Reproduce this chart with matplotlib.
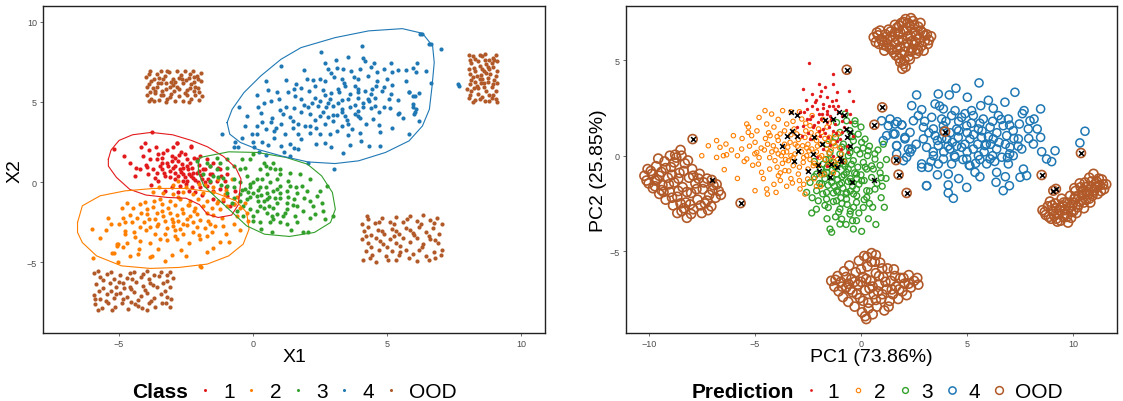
import numpy as np
import matplotlib
matplotlib.use("Agg")
import matplotlib.pyplot as plt
from matplotlib.lines import Line2D

plt.rcParams['font.family'] = ['Liberation Sans', 'DejaVu Sans']

# colours (Paired palette)
col_1, col_2, col_3, col_4, col_ood = '#E31A1C', '#FF7F00', '#33A02C', '#1F78B4', '#B15928'
legend_labels = ['1', '2', '3', '4', 'OOD']

# ---------------- left panel: raw features X1 / X2 ----------------
class1 = [(-5.19,2.05),(-4.03,2.47),(-3.76,3.13),(-3.62,2.16),(-2.85,2.47),(-2.31,2.22),(-4.37,0.91),(-4.09,1.64),
    (-3.53,1.78),(-3.22,1.99),(-3.04,1.64),(-2.79,1.33),(-2.54,1.74),(-2.47,1.43),(-2.10,1.43),(-3.84,1.43),(-3.60,1.43),
    (-3.47,1.02),(-3.97,0.97),(-3.22,1.22),(-2.91,1.02),(-3.10,0.70),(-2.72,0.81),(-2.60,0.50),(-2.29,0.91),(-2.10,0.60),
    (-1.79,0.81),(-3.28,0.39),(-3.66,0.29),(-2.91,0.19),(-2.47,0.08),(-2.23,0.29),(-1.92,0.19),(-1.60,0.50),(-1.36,0.08),
    (-2.72,-0.23),(-3.04,-0.33),(-2.29,-0.33),(-1.73,-0.23),(-1.23,-0.44),(-0.98,-0.85),(-0.67,-0.54),(-3.28,-0.54),
    (-0.86,-1.47),(-0.73,-1.37),(-1.73,1.43),(-1.48,1.22),(-1.23,0.81),(-0.98,0.50),(-1.98,1.64),(-3.41,0.81),(-3.72,0.81),
    (-3.04,1.33),(-2.66,1.12),(-2.41,0.81),(-2.23,0.60),(-2.79,0.39),(-2.04,-0.02),(-1.60,-0.02),(-3.60,0.60),(-3.91,0.50),
    (-4.22,0.81),(-2.91,1.53),(-2.35,1.22),(-3.41,1.53),(-3.16,1.02),(-2.60,0.08),(-1.98,-0.33),(-1.48,-0.54),(-2.38,-0.54),
    (-1.11,-1.16),(-1.48,-1.06),(-2.84,2.41),(-2.33,2.26),(-2.55,0.30),(-2.40,0.52),(-2.18,0.12),(-1.95,0.42),(-1.88,0.85),
    (-2.68,0.62),(-3.00,0.88),(-3.32,0.55),(-2.48,1.00),(-1.70,0.22),(-1.52,0.48),(-2.75,1.72),(-3.35,1.80),(-4.60,1.20),
    (-3.90,2.00),(-1.30,0.90),(-2.00,1.10),(-2.15,-0.62),(-1.05,0.10),(-3.55,0.05),(-4.40,0.40),
    (-2.90,0.60),(-2.60,0.90),(-2.30,0.40),(-2.00,0.70),(-3.10,0.30),(-2.50,-0.10),(-1.80,0.00),(-3.40,1.20),(-2.20,1.50),
    (-2.70,1.90),(-4.80,1.60),(-4.20,2.20),(-3.00,2.20),(-1.60,1.00),(-1.20,0.40),(-3.80,-0.20),(-4.00,1.10),(-2.80,-0.60),
    (-1.90,-0.80),(-1.00,-0.30)]

class2 = [(-5.98,-4.73),(-5.03,-4.96),(-5.19,-4.38),(-4.86,-4.03),(-5.06,-4.00),(-4.69,-3.76),(-4.78,-3.20),(-4.44,-3.09),
    (-4.24,-4.13),(-4.28,-4.48),(-3.84,-4.69),(-4.22,-3.65),(-3.84,-3.76),(-3.53,-4.13),(-3.03,-4.52),(-1.95,-5.31),
    (-1.48,-4.07),(-1.23,-3.71),(-1.98,-3.55),(-1.73,-3.34),(-2.85,-3.55),(-3.47,-3.55),(-3.66,-3.24),(-3.28,-3.24),
    (-2.91,-3.38),(-2.60,-3.24),(-2.23,-3.13),(-1.54,-3.13),(-4.22,-2.76),(-3.84,-2.82),(-3.53,-2.61),(-3.22,-2.88),
    (-2.97,-2.72),(-2.72,-2.93),(-2.47,-2.68),(-2.10,-2.82),(-1.79,-2.88),(-1.42,-2.72),(-4.78,-2.51),(-4.53,-2.51),
    (-4.07,-2.51),(-3.66,-2.30),(-3.28,-2.41),(-3.04,-2.30),(-2.79,-2.41),(-2.47,-2.30),(-2.23,-2.51),(-1.98,-2.35),
    (-1.67,-2.41),(-1.11,-2.72),(-4.59,-2.05),(-4.34,-2.20),(-3.97,-1.99),(-3.60,-1.89),(-3.35,-2.10),(-3.10,-1.93),
    (-2.85,-2.05),(-2.60,-1.89),(-2.35,-2.10),(-2.10,-1.99),(-1.73,-1.89),(-1.48,-2.05),(-1.17,-2.20),(-4.84,-2.20),
    (-4.47,-1.58),(-4.22,-1.37),(-3.97,-1.68),(-3.72,-1.52),(-3.41,-1.37),(-3.16,-1.58),(-2.91,-1.43),(-2.66,-1.64),
    (-2.41,-1.43),(-2.16,-1.58),(-1.85,-1.47),(-1.54,-1.58),(-1.23,-1.68),(-0.98,-1.47),(-4.71,-1.27),(-4.03,-1.22),
    (-3.47,-1.06),(-3.10,-1.16),(-2.72,-1.06),(-2.35,-1.16),(-2.04,-1.02),(-1.73,-1.16),(-1.36,-1.27),(-1.11,-1.06),
    (-0.73,-1.37),(-0.49,-1.58),(-0.61,-2.10),(-0.24,-1.89),(-3.72,-0.64),(-3.35,-0.69),(-2.97,-0.75),(-2.60,-0.60),
    (-2.23,-0.75),(-1.85,-0.69),(-1.48,-0.60),(-1.04,-0.75),(-5.09,-3.86),(-5.27,-4.38),(-5.04,-3.86),(-4.77,-3.03),
    (-1.97,-5.21),(-3.77,-4.59),(-1.71,-4.34),(-1.50,-0.30),(-1.00,-0.50),(-0.60,-0.90),(-0.30,-1.30),(-0.20,-2.40),
    (-2.50,-0.30),(-3.00,-0.20),(-2.00,-0.10),(-0.80,0.20),(-3.50,-0.30),(-2.80,0.10),(-1.80,-0.20),(-1.30,0.20),
    (-5.50,-3.00),(-5.30,-2.60),(-4.00,-3.00),(-2.40,-3.80),(-2.70,-4.20),(-1.00,-3.20),(-0.70,-2.60),(-4.90,-1.60),
    (-5.40,-2.20),(-3.00,-2.50),(-2.60,-2.60),(-3.40,-1.80),(-2.20,-1.80),(-3.90,-2.30),(-2.90,-3.00),(-2.00,-3.30),
    (-3.20,-3.60),(-4.40,-3.40),(-1.60,-2.60),(-2.40,-1.40),(-3.70,-1.20),(-4.20,-1.90),(-5.00,-2.60),(-5.70,-3.50),
    (-6.00,-2.90),(-4.60,-4.60),(-3.30,-4.90),(-2.50,-4.60),(-0.90,-3.70),(-0.50,-3.00),(-1.30,-1.20),(-2.80,-0.90),
    (-3.60,-2.70)]

class3 = [(-2.10,1.33),(-1.36,1.53),(-0.42,1.43),(0.01,1.74),(0.63,0.91),(0.82,0.81),(1.32,0.08),(1.82,-0.23),(2.38,-0.85),
    (3.00,-2.10),(2.13,-2.20),(1.88,-3.13),(0.70,-3.13),(2.06,-3.13),(1.26,-2.62),(1.57,-2.10),(1.00,-2.51),(0.76,-2.30),
    (0.26,-2.51),(0.01,-2.10),(0.51,-1.89),(-0.11,-1.68),(-0.36,-1.47),(0.26,-1.47),(0.76,-1.58),(1.26,-1.68),(1.63,-1.47),
    (1.88,-1.78),(2.25,-1.47),(2.56,-1.27),(1.51,-1.06),(1.01,-0.96),(0.51,-1.06),(0.14,-0.85),(-0.24,-1.06),(-0.49,-0.75),
    (-0.73,-0.96),(-0.98,-0.65),(0.76,-0.54),(1.26,-0.54),(1.63,-0.65),(2.00,-0.54),(0.26,-0.33),(-0.11,-0.13),(-0.49,-0.02),
    (-0.73,0.19),(-0.24,0.39),(0.14,0.19),(0.63,-0.02),(1.01,-0.23),(1.38,-0.23),(1.01,0.50),(0.51,0.50),(0.26,0.81),
    (-0.49,0.81),(-0.98,0.91),(-1.36,0.81),(-1.60,1.02),(-1.85,0.50),(-1.48,0.39),(-1.11,0.29),(-0.98,-0.23),(0.01,-0.65),
    (0.88,-1.27),(1.26,-1.27),(0.51,-0.65),(-0.30,-0.44),(-0.73,-0.33),(0.14,-1.78),(0.88,-2.00),(1.63,-2.51),(1.13,-2.10),
    (0.63,-2.51),(-0.36,-2.10),(-0.61,-1.78),(2.50,-0.54),(2.75,-0.23),(2.13,-1.16),(-0.11,1.43),(-0.73,1.02),(-0.98,1.43),
    (-1.23,1.22),(-1.73,1.22),(0.39,1.22),(0.76,1.22),(1.01,0.81),(1.38,0.60),(1.76,0.50),(2.13,0.19),(2.69,-2.30),
    (0.30,-0.80),(0.50,-0.30),(-0.20,-0.60),(0.80,-1.00),(0.00,0.00),(0.40,-1.20),(1.00,-0.70),(-0.50,-1.20),(0.20,-0.50),
    (0.60,-1.50),(-0.10,-0.95),(0.35,0.20),(1.20,-1.90),(-1.20,-0.20),(-1.60,0.10),(0.90,0.20),
    (0.20,-1.20),(0.60,-0.90),(-0.10,-0.30),(0.90,-0.40),(1.30,-0.90),(0.40,-1.60),(-0.40,-0.50),(0.70,-2.10),(1.50,-1.40),
    (1.90,-1.00),(2.30,-2.00),(0.00,-2.40),(-0.80,-1.30),(-1.30,0.30),(-0.30,0.90),(0.50,1.00),(1.60,-0.30),(2.60,-1.80),
    (1.40,-3.00),(0.30,-2.90)]

class4 = [(6.32,9.21),(6.64,8.59),(7.01,8.28),(4.06,8.45),(2.55,8.13),(3.56,7.80),(4.12,7.76),(4.19,7.55),(4.50,7.45),
    (5.13,7.45),(6.13,7.45),(1.04,7.24),(2.68,7.45),(2.80,7.04),(3.12,7.08),(3.37,7.04),(3.64,6.93),(4.00,7.04),(4.63,6.83),
    (4.88,7.04),(5.19,6.87),(5.72,6.97),(5.95,7.14),(6.07,6.83),(6.45,6.93),(0.50,6.27),(1.23,6.35),(2.02,6.45),(2.24,6.35),
    (2.49,6.41),(2.68,6.31),(3.02,6.52),(3.31,6.45),(3.75,6.52),(4.29,6.62),(4.63,6.31),(5.00,6.41),(6.64,6.16),(0.54,5.75),
    (1.54,5.79),(1.80,5.89),(2.30,6.00),(2.61,5.73),(3.18,5.79),(3.43,5.96),(3.81,6.00),(3.93,5.79),(4.18,5.69),(4.44,5.79),
    (4.81,5.69),(5.19,6.04),(5.82,5.62),(6.20,5.58),(5.95,5.38),(0.14,5.42),(0.66,5.06),(0.98,5.17),(1.58,5.38),(1.80,5.17),
    (2.30,5.27),(2.49,5.06),(2.86,5.21),(3.18,4.96),(3.56,5.21),(3.93,5.27),(4.31,5.06),(4.56,5.27),(5.07,5.21),(5.13,5.48),
    (0.41,4.96),(-0.53,4.65),(1.23,4.65),(1.54,4.59),(2.05,4.65),(2.42,4.75),(2.74,4.65),(2.99,4.75),(3.31,4.55),(3.62,4.65),
    (3.93,4.44),(4.12,4.65),(4.56,4.75),(4.88,4.71),(5.44,4.30),(5.95,4.86),(6.07,4.55),(6.01,4.23),(-0.24,4.09),(0.29,4.30),
    (1.10,4.23),(1.36,4.03),(1.80,4.34),(2.11,4.23),(2.49,4.13),(2.80,4.03),(3.12,4.17),(3.43,4.09),(3.81,4.23),(3.93,4.13),
    (4.46,3.92),(0.35,3.72),(0.66,3.72),(1.04,3.61),(1.48,3.82),(1.67,3.61),(2.11,3.51),(2.36,3.40),(2.68,3.61),(3.31,3.51),
    (3.56,3.65),(4.69,3.55),(0.16,3.47),(0.85,3.40),(1.48,3.40),(1.92,3.47),(2.86,2.99),(3.15,3.20),(3.56,2.93),(3.99,3.05),
    (4.75,3.13),(-1.16,2.99),(-0.41,2.78),(-0.03,2.99),(0.16,2.99),(0.79,3.20),(0.79,2.78),(1.67,2.99),(2.11,3.09),
    (-0.66,2.51),(0.35,2.51),(0.54,2.31),(1.04,2.26),(1.39,2.37),(1.54,2.10),(1.69,2.06),(2.36,2.37),(2.70,2.47),(4.03,2.58),
    (4.31,2.26),(4.75,2.26),(-0.72,2.22),(-0.57,2.16),(0.03,2.16),(0.22,1.89),(0.47,1.68),(1.14,1.89),(1.36,1.64),(3.37,1.79),
    (2.05,1.19),(3.03,0.81),(7.64,6.10),(7.68,5.96),(5.83,5.64),(6.03,5.37),(5.96,4.65),(6.03,4.34),(5.40,4.27),(6.56,8.59),
    (6.23,9.21),(3.60,5.50),(2.90,5.55),(4.10,4.95),(3.30,4.35),(2.60,4.40),(4.40,5.50),(3.00,3.80),
    (2.20,4.90),(2.70,5.40),(3.30,5.10),(3.80,4.80),(4.30,5.20),(4.70,4.40),(3.00,4.20),(3.50,3.90),(2.30,3.90),(1.90,4.80),
    (1.30,5.60),(1.00,4.50),(0.70,4.00),(4.90,5.90),(5.40,5.10),(5.60,4.00),(4.20,3.60),(3.70,3.30),(2.50,3.00),(1.80,2.70),
    (1.20,3.00),(0.50,3.30),(3.90,5.60),(4.60,6.00),(3.40,6.20),(2.90,6.80),(2.10,5.70),(1.60,6.10),(4.00,4.00),(5.10,4.60),
    (4.40,4.60),(2.80,4.90),(3.20,5.60),(3.90,6.40),(5.70,6.30),(5.40,7.00),(4.40,7.20),(3.10,7.60),(1.90,7.00),(0.90,5.60),
    (0.20,4.70),(-0.30,3.50),(0.00,2.50),(2.90,2.20),(3.60,2.30),(5.20,3.40),(5.80,3.00),(6.20,3.80)]

ood_a = [(-3.98,6.55),(-3.85,6.90),(-3.70,6.40),(-3.60,6.75),(-3.45,6.95),(-3.30,6.60),(-3.15,6.85),(-3.00,6.45),(-2.85,6.95),
    (-2.70,6.70),(-2.55,6.90),(-2.40,6.50),(-2.25,6.95),(-2.10,6.60),(-1.95,6.30),(-3.90,6.10),(-3.75,5.85),(-3.55,6.15),
    (-3.40,5.70),(-3.25,6.20),(-3.10,5.90),(-2.90,6.25),(-2.75,5.80),(-2.60,6.15),(-2.45,5.75),(-2.30,6.10),(-2.15,5.90),
    (-2.00,5.60),(-3.95,5.45),(-3.80,5.20),(-3.65,5.55),(-3.50,5.10),(-3.35,5.40),(-3.20,5.15),(-3.05,5.50),(-2.90,5.05),
    (-2.75,5.35),(-2.60,5.05),(-2.45,5.45),(-2.30,5.20),(-2.15,5.40),(-2.00,5.10),(-3.60,5.95),(-3.00,6.05),(-2.50,6.35),
    (-3.35,6.40),(-3.70,5.05),(-1.95,6.80),(-2.95,5.70),(-2.20,6.55),(-3.88,6.72),(-3.50,6.50),(-3.20,6.95),(-2.78,6.50),
    (-2.35,6.75),(-2.05,6.42),(-3.82,6.30),(-3.45,6.20),(-3.05,6.25),(-2.65,6.45),(-2.20,6.25),(-3.95,5.90),(-3.65,5.70),
    (-3.25,5.80),(-2.85,5.95),(-2.35,5.85),(-2.05,5.85),(-3.85,5.60),(-3.45,5.45),(-3.10,5.30),(-2.55,5.55),(-2.20,5.65),
    (-3.90,5.05),(-3.25,5.00),(-2.40,5.00),(-1.92,5.35)]
ood_b = [(8.05,7.90),(8.30,7.70),(8.55,7.85),(8.80,7.60),(9.05,7.90),(8.15,7.40),(8.45,7.25),(8.70,7.35),(8.95,7.20),
    (8.05,7.05),(8.30,6.90),(8.60,6.95),(8.85,6.75),(9.10,6.95),(8.20,6.55),(8.45,6.40),(8.75,6.50),(9.00,6.35),(8.10,6.10),
    (8.35,6.00),(8.60,6.15),(8.90,5.95),(9.10,6.20),(8.15,5.65),(8.40,5.50),(8.70,5.70),(8.95,5.45),(8.05,5.25),(8.30,5.10),
    (8.55,5.30),(8.80,5.05),(9.05,5.20),(8.50,6.70),(8.25,7.10),(8.65,7.60),(8.00,5.80),(8.90,7.45),(8.40,5.85),(8.75,6.25),
    (9.05,5.70),(8.20,5.00),(8.55,7.05),(8.45,7.90),(9.10,7.55),(8.10,6.75),(8.20,7.85),(8.65,7.95),(8.95,7.75),(8.40,7.55),
    (8.10,7.60),(8.80,7.05),(8.35,6.60),(8.70,6.80),(9.05,6.60),(8.15,6.35),(8.55,6.45),(8.95,6.10),(8.25,5.85),(8.60,5.90),
    (8.80,5.45),(8.10,5.45),(8.45,5.20),(8.90,5.25),(9.10,5.00),(8.65,5.05),(8.30,6.25),(8.75,7.15),(9.00,7.60),(8.50,6.15)]
ood_c = [(-5.95,-5.65),(-5.70,-5.90),(-5.45,-5.70),(-5.20,-6.00),(-4.95,-5.75),(-4.70,-5.95),(-4.45,-5.60),(-4.20,-5.90),
    (-3.95,-5.55),(-3.70,-5.80),(-3.45,-5.60),(-3.20,-5.75),(-3.00,-5.95),(-5.85,-6.35),(-5.60,-6.60),(-5.35,-6.30),
    (-5.10,-6.55),(-4.85,-6.25),(-4.60,-6.50),(-4.35,-6.20),(-4.10,-6.45),(-3.85,-6.25),(-3.60,-6.55),(-3.35,-6.30),
    (-3.10,-6.50),(-5.95,-7.00),(-5.70,-7.25),(-5.45,-6.95),(-5.20,-7.20),(-4.95,-6.90),(-4.70,-7.15),(-4.45,-6.85),
    (-4.20,-7.10),(-3.95,-6.90),(-3.70,-7.20),(-3.45,-6.95),(-3.20,-7.15),(-5.90,-7.60),(-5.65,-7.85),(-5.40,-7.55),
    (-5.15,-7.80),(-4.90,-7.50),(-4.65,-7.90),(-4.40,-7.60),(-4.15,-7.85),(-3.90,-7.55),(-3.65,-7.80),(-3.40,-7.50),
    (-3.10,-7.75),(-5.80,-7.95),(-4.80,-6.60),(-3.90,-6.00),(-5.30,-6.75),(-3.05,-7.30),(-4.30,-7.35),(-5.80,-5.55),
    (-5.30,-5.60),(-4.60,-5.65),(-4.10,-5.70),(-3.50,-5.85),(-3.10,-5.60),(-5.60,-6.10),(-5.00,-6.20),(-4.50,-6.05),
    (-3.75,-6.40),(-3.20,-6.15),(-5.75,-6.80),(-5.10,-6.95),(-4.55,-6.65),(-4.05,-6.70),(-3.30,-6.75),(-5.50,-7.40),
    (-4.85,-7.30),(-4.30,-7.70),(-3.80,-7.40),(-3.25,-7.55),(-5.25,-7.95),(-4.55,-7.45),(-3.95,-7.95),(-5.90,-7.30)]
ood_d = [(4.05,-2.60),(4.30,-2.30),(4.55,-2.55),(4.80,-2.20),(5.10,-2.45),(5.35,-2.15),(5.60,-2.50),(5.85,-2.10),(6.10,-2.40),
    (6.35,-2.05),(6.60,-2.35),(6.85,-2.20),(7.05,-2.60),(4.15,-3.05),(4.40,-3.30),(4.65,-2.95),(4.90,-3.25),(5.20,-2.90),
    (5.45,-3.20),(5.70,-2.85),(5.95,-3.15),(6.20,-2.80),(6.45,-3.10),(6.70,-2.85),(6.95,-3.20),(4.05,-3.55),(4.30,-3.80),
    (4.60,-3.50),(4.85,-3.85),(5.10,-3.55),(5.35,-3.80),(5.60,-3.45),(5.85,-3.75),(6.10,-3.50),(6.35,-3.85),(6.60,-3.55),
    (6.90,-3.80),(4.20,-4.30),(4.45,-4.55),(4.70,-4.25),(4.95,-4.60),(5.20,-4.30),(5.45,-4.55),(5.70,-4.20),(5.95,-4.50),
    (6.20,-4.25),(6.45,-4.60),(6.75,-4.35),(7.00,-4.55),(4.10,-4.85),(4.60,-4.95),(5.35,-4.85),(6.10,-4.90),(6.80,-4.75),
    (5.50,-3.95),(4.25,-2.10),(4.70,-2.45),(5.25,-2.60),(5.75,-2.30),(6.25,-2.60),(6.75,-2.55),(4.30,-2.80),(4.80,-3.05),
    (5.35,-3.05),(5.85,-2.95),(6.55,-3.35),(4.20,-3.35),(4.75,-3.65),(5.25,-3.35),(6.00,-3.30),(6.80,-3.60),(4.40,-4.05),
    (5.00,-4.05),(5.50,-4.35),(6.30,-4.05),(7.05,-4.20),(4.35,-4.75),(5.05,-4.85),(5.80,-4.75),(6.55,-4.85)]

# density contour outlines
contour1 = [(-5.40,1.43),(-5.30,2.00),(-5.00,2.60),(-4.50,2.95),(-3.80,3.10),(-3.00,2.95),(-2.30,2.60),(-1.70,2.20),
    (-1.10,1.60),(-0.65,0.90),(-0.45,0.20),(-0.50,-0.60),(-0.55,-1.40),(-0.80,-2.05),(-1.30,-2.20),(-1.70,-2.00),
    (-2.00,-1.40),(-2.50,-1.00),(-3.20,-0.95),(-4.00,-0.80),(-4.60,-0.45),(-5.10,0.30),(-5.40,1.00),(-5.40,1.43)]
contour2 = [(-6.55,-2.51),(-6.37,-1.47),(-5.71,-0.85),(-4.77,-0.54),(-3.71,-0.39),(-2.51,-0.39),(-1.44,-0.64),(-0.64,-1.16),
    (-0.24,-1.89),(-0.15,-2.93),(-0.37,-3.86),(-0.91,-4.59),(-1.71,-5.10),(-2.77,-5.31),(-3.84,-5.37),(-4.91,-5.21),
    (-5.84,-4.59),(-6.37,-3.76),(-6.55,-3.13),(-6.55,-2.51)]
contour3 = [(-1.97,1.54),(-0.91,1.89),(0.16,1.85),(1.23,1.54),(2.03,1.12),(2.56,0.39),(2.96,-0.64),(3.07,-1.68),(2.89,-2.51),
    (2.29,-3.13),(1.36,-3.38),(0.43,-3.24),(-0.24,-2.72),(-0.77,-1.89),(-1.31,-1.06),(-1.84,-0.23),(-2.04,0.60),
    (-2.04,1.22),(-1.97,1.54)]
contour4 = [(-0.97,3.71),(-0.78,4.54),(-0.34,5.58),(0.29,6.62),(1.04,7.65),(1.79,8.38),(3.06,9.00),(4.31,9.42),(5.57,9.56),
    (6.32,9.27),(6.70,8.48),(6.76,7.45),(6.68,5.99),(6.58,4.54),(6.32,3.50),(5.82,2.57),(4.94,1.85),(3.94,1.33),(3.06,1.16),
    (2.05,1.26),(1.04,1.64),(0.16,2.05),(-0.47,2.47),(-0.87,2.99),(-0.97,3.71)]

# ---------------- right panel: PCA projection ----------------
pred1 = [(-2.43,4.85),(-1.33,4.28),(-1.99,3.75),(-2.72,3.49),(-1.30,3.75),(-0.55,3.40),(-0.36,2.88),(-1.15,3.32),(-2.32,3.23),
    (-1.93,3.14),(-1.62,3.06),(-2.17,2.79),(-1.77,2.71),(-1.38,2.88),(-1.07,2.62),(-2.56,2.44),(-2.09,2.44),(-1.62,2.36),
    (-1.22,2.44),(-2.87,2.27),(-2.32,2.10),(-1.85,2.18),(-1.46,2.10),(-0.91,2.10),(-2.56,1.92),(-2.01,1.75),(-1.62,1.75),
    (-1.22,1.66),(-0.52,1.75),(-2.72,1.57),(-2.25,1.48),(-1.77,1.40),(-1.30,1.31),(-0.91,1.22),(-0.36,1.05),(-1.93,1.05),
    (-1.54,0.96),(-2.40,0.87),(-1.15,0.79),(-0.67,0.52),(-1.77,0.35),(-2.09,-0.09),(-1.30,0.00),(-0.91,-0.35),(-1.62,-0.52),
    (-2.79,1.05),(-3.03,1.48),(-1.80,2.50),(-1.50,2.60),(-2.00,2.20),(-1.40,1.90),(-1.10,2.30),(-2.20,1.60),(-1.70,1.20),
    (-0.80,1.50),(-1.00,0.90),(-2.50,1.20),(-0.70,2.40),(-2.60,2.90),(-1.90,3.40),(-1.20,2.90),(-2.30,2.60),(-0.95,0.35),
    (-1.45,0.55),(-0.60,0.20),(-2.10,2.90),(-1.60,2.20),(-1.30,2.60),(-1.90,1.90),(-2.40,1.90),(-1.50,1.50),(-0.90,1.80),
    (-2.00,1.30),(-1.20,1.20),(-2.70,2.30),(-0.50,2.20),(-1.70,3.60)]

pred2 = [(-7.50,0.00),(-7.19,0.52),(-6.80,0.79),(-6.64,0.44),(-6.36,0.61),(-6.80,-0.09),(-6.48,0.00),(-6.33,0.05),(-6.44,-0.73),
    (-6.01,1.05),(-5.82,0.00),(-5.82,-1.19),(-5.62,0.35),(-5.38,1.66),(-5.31,1.22),(-5.38,-0.17),(-5.15,1.05),(-4.99,0.70),
    (-4.99,-1.83),(-4.91,0.17),(-4.83,-0.44),(-4.68,-0.87),(-4.52,2.36),(-4.44,1.66),(-4.44,-1.74),(-4.41,-2.01),(-4.28,1.05),
    (-4.21,2.18),(-4.13,0.52),(-4.05,-0.26),(-4.00,-1.92),(-3.89,-1.05),(-3.81,1.14),(-3.69,2.36),(-3.66,0.17),(-3.58,-0.78),
    (-3.50,1.66),(-3.42,-0.26),(-3.34,0.70),(-3.23,-1.43),(-3.19,-0.52),(-3.11,0.09),(-3.03,1.14),(-2.95,-0.96),(-2.87,-1.74),
    (-2.79,1.92),(-2.75,0.52),(-2.72,-0.35),(-2.64,0.96),(-2.56,0.00),(-2.51,-1.22),(-2.40,1.57),(-2.32,0.35),(-2.25,-0.52),
    (-2.09,0.79),(-1.96,-0.09),(-1.85,1.22),(-1.74,-0.96),(-1.62,0.35),(-1.49,0.96),(-1.38,-0.26),(-1.22,0.52),(-1.07,1.14),
    (-0.91,0.09),(-2.64,-2.01),(-4.70,0.40),(-4.50,0.90),(-4.30,-0.10),(-4.00,0.30),(-3.90,0.80),(-3.70,-0.40),(-3.50,0.20),
    (-3.30,1.10),(-3.20,-0.10),(-3.00,0.50),(-2.90,-0.60),(-2.80,0.20),(-2.60,1.30),(-2.50,0.60),(-2.40,-0.20),(-2.30,0.90),
    (-2.10,0.20),(-2.00,-0.50),(-1.90,0.60),(-1.70,-0.20),(-1.60,1.50),(-1.50,0.10),(-1.30,0.70),(-1.20,-0.50),(-1.00,0.40),
    (-0.80,-0.30),(-3.60,1.30),(-4.10,1.50),(-3.40,-0.80),(-2.20,-1.20),(-1.90,-1.60),(-2.70,-1.50),(-3.80,-1.30),(-4.60,-1.20),
    (-5.10,-0.50),(-5.60,0.90),(-4.90,1.30),(-3.20,1.80),(-2.30,2.10),(-2.90,2.30),(-3.30,2.30),(-1.80,1.90),(-4.80,-0.10),
    (-4.40,0.60),(-3.95,-0.60),(-3.45,0.45),(-2.95,0.85),(-2.45,0.25),(-2.05,1.10),(-1.55,0.75),(-3.75,0.00),(-5.25,0.50),
    (-3.90,0.10),(-3.60,0.60),(-3.30,0.00),(-3.10,0.60),(-2.85,1.00),(-2.70,-0.10),(-2.55,0.40),(-2.35,1.20),(-2.20,-0.40),
    (-2.05,0.50),(-1.85,0.00),(-1.70,0.90),(-1.55,-0.50),(-1.40,0.30),(-1.25,1.10),(-1.10,-0.20),(-3.55,-0.20),(-4.20,0.20),
    (-4.55,0.30),(-4.35,1.20),(-3.95,1.00),(-3.15,1.40),(-2.60,1.70),(-2.00,1.40),(-1.50,1.70),(-3.80,-0.90),(-3.30,-1.20),
    (-2.50,-0.70),(-1.90,-1.00),(-4.30,-0.70),(-5.00,0.10),(-5.50,-0.30),(-6.10,0.30),(-2.90,-1.30),(-3.50,-1.60),
    (-4.10,-1.50),(-2.10,-1.60),(-1.30,-0.90),(-5.30,1.50),(-3.90,1.90),(-4.80,2.00)]

pred3 = [(-0.75,2.18),(-0.28,1.66),(0.34,0.26),(0.66,-0.18),(0.58,-0.70),(1.18,-1.19),(0.66,-1.75),(0.55,-2.70),(0.03,-3.96),
    (-0.36,-3.84),(-1.46,-3.84),(-1.38,-4.01),(-0.99,-3.58),(-0.21,-3.40),(-2.32,-3.00),(-0.91,-3.32),(-0.52,-3.06),
    (-1.54,-2.71),(-0.99,-2.79),(0.11,-2.71),(-2.01,-2.36),(-1.62,-2.27),(-1.15,-2.36),(-0.68,-2.27),(-0.21,-2.44),
    (0.27,-2.18),(-2.56,-1.92),(-2.09,-1.83),(-1.62,-1.92),(-1.15,-1.83),(-0.68,-1.92),(-0.21,-1.75),(0.27,-1.83),
    (-2.40,-1.40),(-1.85,-1.48),(-1.38,-1.40),(-0.91,-1.43),(-0.44,-1.36),(0.03,-1.31),(0.50,-1.14),(-2.09,-0.96),
    (-1.62,-0.87),(-1.15,-0.96),(-0.68,-0.87),(-0.21,-0.96),(0.27,-0.70),(-1.78,-0.44),(-1.30,-0.35),(-0.83,-0.44),
    (-0.36,-0.26),(0.11,-0.35),(-1.46,0.17),(-0.99,0.09),(-0.52,0.17),(-0.05,0.09),(-1.30,0.70),(-0.83,0.61),(-0.36,0.78),
    (0.03,0.70),(-0.99,1.22),(-0.52,1.31),(-0.13,1.13),(-1.15,1.74),(-0.68,1.83),(-0.28,1.83),(0.19,0.87),(0.50,-0.53),
    (-1.20,-0.60),(-0.90,-1.10),(-0.60,-0.70),(-0.40,-1.60),(-0.70,-2.00),(-1.00,-1.50),(-0.30,-0.90),(-1.40,-1.10),
    (-0.80,-0.30),(-0.50,-1.20),(-1.10,-1.90),(-0.20,-2.10),(-1.70,-1.20),(-0.90,-2.50),(-0.50,-2.90),(-1.30,-2.40),
    (-1.80,-2.00),(0.00,-1.00),(0.20,-0.60),(-1.90,-0.70),(0.90,-0.90),(1.00,-1.60),(0.80,0.30),(0.40,0.50),(-2.20,-0.30),
    (-0.10,-3.00),(0.35,-3.30),(-0.70,-3.60),(-1.20,-3.20),(0.95,-2.20),(-0.55,0.40),(-1.65,-0.20),(0.10,0.40),
    (-1.60,-0.60),(-1.35,-0.75),(-1.10,-1.25),(-0.85,-1.70),(-0.60,-1.35),(-0.35,-2.00),(-0.10,-1.50),(0.15,-2.30),
    (-1.55,-1.55),(-1.30,-1.95),(-0.95,-2.20),(-0.65,-2.55),(-0.35,-2.70),(-1.05,-2.95),(-1.70,-2.60),(-2.10,-2.80),
    (-2.30,-2.20),(-1.95,-1.45),(-2.20,-1.10),(-1.50,-0.20),(-1.10,-0.50),(-0.75,-0.55),(-0.45,-0.45),(-0.15,-0.60),
    (0.15,-1.30),(0.40,-1.85),(0.75,-1.45),(0.90,-0.50),(0.65,0.10),(0.30,0.00),(-0.20,0.30),(-0.60,0.00),(-0.90,0.45),
    (-1.20,0.95),(-0.40,1.00),(0.00,1.50),(-1.60,0.60),(-0.80,-1.00),(-0.50,-1.85),(-0.20,-1.20),(-1.25,-1.60),(-1.75,-0.95),
    (0.40,-2.50),(1.10,-2.70),(0.70,-3.60),(-0.40,-3.40),(-1.60,-3.30),(1.05,0.60),(1.20,-0.20),(0.95,-1.15)]

pred4 = [(5.56,3.81),(4.47,3.53),(7.25,3.32),(3.64,3.23),(2.62,3.18),(4.16,3.18),(5.01,3.06),(2.39,2.62),(3.49,2.71),(3.88,2.45),
    (4.43,2.36),(5.21,2.36),(5.64,2.62),(6.23,2.48),(6.78,2.80),(7.68,2.36),(8.46,2.45),(2.86,2.41),(2.70,2.10),(2.47,1.83),
    (3.33,2.01),(3.80,1.92),(4.27,2.10),(4.74,2.01),(5.29,2.10),(5.76,1.92),(6.47,2.10),(6.94,1.92),(7.46,1.66),(7.96,1.83),
    (8.15,1.92),(1.60,1.66),(1.92,1.61),(2.31,1.22),(2.94,1.49),(3.41,1.40),(3.88,1.57),(4.51,1.40),(4.98,1.57),(5.53,1.40),
    (6.08,1.49),(6.70,1.57),(7.17,1.31),(7.88,1.40),(1.52,1.14),(2.07,0.88),(2.94,0.88),(3.49,1.05),(4.04,0.88),(4.58,0.96),
    (5.13,0.88),(5.68,0.96),(6.23,0.88),(6.86,1.05),(7.41,0.88),(8.12,0.61),(8.46,0.96),(1.68,0.53),(2.23,0.35),(3.09,0.44),
    (3.64,0.53),(4.19,0.35),(4.74,0.44),(5.29,0.35),(5.84,0.53),(6.39,0.35),(7.02,0.44),(7.57,0.35),(1.68,0.09),(2.15,-0.08),
    (3.41,0.00),(3.88,-0.17),(4.43,-0.08),(4.98,-0.17),(5.53,0.00),(6.08,-0.17),(6.63,-0.08),(7.17,0.00),(8.51,0.21),
    (8.74,-0.17),(9.14,0.26),(8.98,-0.31),(2.86,-0.43),(3.17,-0.61),(3.64,-0.43),(4.27,-0.43),(5.13,-0.52),(5.92,-0.43),
    (6.94,-0.43),(7.65,-0.70),(7.80,-1.04),(7.49,-1.13),(4.11,-0.96),(5.37,-0.87),(6.39,-0.87),(3.09,-1.57),(4.11,-1.53),
    (4.98,-1.66),(6.36,-1.39),(6.99,-1.57),(6.70,-1.83),(4.11,-1.95),(4.35,-2.23),(10.55,1.28),(10.31,0.67),(0.97,1.83),
    (1.37,1.92),(1.71,1.78),(1.92,1.61),(1.29,1.57),(1.21,1.05),(1.05,0.79),(1.60,1.14),(2.07,0.96),(1.68,0.52),(2.31,0.18),
    (2.00,-0.26),(2.39,0.35),(2.86,-0.61),(3.09,-1.57),(4.50,0.50),(5.00,1.20),(5.50,0.60),(6.00,1.00),(4.80,-0.20),
    (5.80,0.20),(4.20,1.20),(6.50,0.70),(3.80,0.90),(5.20,1.70),(6.20,0.00),(4.60,1.80),(3.40,0.20),(7.00,0.10),(5.40,-0.40),
    (3.20,1.20),(3.60,0.80),(3.90,1.30),(4.30,0.70),(4.60,1.30),(4.90,0.60),(5.30,1.10),(5.70,1.30),(6.10,0.60),(6.40,1.20),
    (6.80,0.60),(7.20,0.90),(3.30,-0.30),(3.90,0.20),(4.40,0.00),(5.00,0.20),(5.60,-0.20),(6.30,-0.30),(6.90,-0.10),
    (7.40,0.50),(4.00,1.80),(4.90,2.20),(5.60,1.70),(6.20,1.80),(7.00,1.60),(3.00,1.80),(2.60,0.60),(4.60,-1.20),(5.60,-1.10),
    (6.80,-1.10),(7.90,0.90),(8.30,1.40),(7.60,2.20),(3.70,2.60),(6.00,2.90),(5.10,-0.50),(4.10,0.50),(5.90,0.60),(6.60,1.90),
    (3.60,-1.00)]

ood_top = [(0.60,6.20),(0.75,6.45),(0.70,5.95),(0.90,6.55),(0.95,6.10),(1.05,5.80),(1.15,6.35),(1.25,6.05),(1.35,5.65),
    (1.40,6.50),(1.50,6.20),(1.55,5.40),(1.60,5.90),(1.70,6.70),(1.75,6.35),(1.80,5.10),(1.85,5.70),(1.90,6.95),(1.95,6.05),
    (2.00,4.80),(2.05,5.45),(2.10,7.15),(2.15,6.55),(2.20,5.90),(2.25,5.20),(2.30,6.80),(2.35,6.25),(2.40,5.60),(2.45,7.05),
    (2.50,6.50),(2.55,5.95),(2.60,5.35),(2.70,6.75),(2.75,6.15),(2.85,5.75),(2.90,6.45),(3.00,6.00),(3.10,6.35),(3.20,6.05),
    (3.30,6.25),(1.65,5.25),(1.95,4.55),(2.05,5.00),(1.30,6.60),(2.20,6.95),(1.85,6.45),(2.65,5.60),(2.35,5.45),(1.45,5.55),
    (2.95,5.50),(1.10,5.50),(2.50,6.85),(0.85,5.85),(1.75,6.05),(0.80,6.30),(1.00,6.00),(1.20,5.75),(1.40,6.25),(1.60,6.45),
    (1.80,6.80),(2.00,6.60),(2.20,6.25),(2.40,6.00),(2.60,6.30),(2.80,6.55),(3.00,6.30),(1.70,5.55),(1.90,5.35),(2.10,5.70),
    (2.30,5.05),(2.50,5.80),(2.70,5.50),(2.10,4.65),(1.85,4.90),(2.35,7.20),(2.00,7.00),(1.60,6.85),(3.15,5.85),(2.80,6.95)]
ood_bottom = [(-1.40,-6.55),(-1.25,-6.85),(-1.10,-6.30),(-1.05,-7.10),(-0.95,-6.60),(-0.85,-7.40),(-0.80,-6.05),(-0.70,-6.90),
    (-0.60,-7.65),(-0.55,-5.75),(-0.45,-6.45),(-0.40,-7.15),(-0.30,-7.90),(-0.25,-6.10),(-0.15,-6.75),(-0.10,-5.50),
    (-0.05,-7.45),(0.05,-8.20),(0.10,-6.35),(0.15,-5.25),(0.20,-7.05),(0.25,-8.55),(0.30,-5.80),(0.35,-7.70),(0.45,-6.55),
    (0.50,-5.10),(0.55,-8.30),(0.60,-7.25),(0.65,-5.55),(0.70,-6.15),(0.75,-7.90),(0.85,-6.75),(0.90,-5.60),(0.95,-7.50),
    (1.05,-6.35),(1.10,-8.10),(1.20,-7.00),(1.25,-5.90),(1.35,-7.60),(1.40,-6.55),(1.50,-7.25),(1.55,-5.95),(1.65,-6.85),
    (1.75,-7.50),(1.85,-6.40),(1.95,-7.10),(2.05,-6.70),(2.15,-7.30),(2.25,-6.25),(2.35,-6.90),(2.50,-6.55),(2.65,-6.40),
    (2.70,-6.75),(0.40,-6.95),(-0.60,-6.70),(0.00,-6.60),(1.00,-5.90),(0.80,-7.10),(-1.20,-6.50),(-0.90,-6.85),(-0.70,-6.35),
    (-0.50,-7.00),(-0.30,-6.60),(-0.20,-7.25),(0.00,-5.95),(0.10,-7.60),(0.25,-6.45),(0.35,-8.00),(0.50,-5.55),(0.55,-6.85),
    (0.70,-7.55),(0.85,-6.30),(1.00,-7.25),(1.15,-6.60),(1.30,-7.90),(1.45,-7.00),(1.60,-6.30),(1.80,-7.00),(2.00,-6.40),
    (2.25,-6.70),(0.30,-5.30),(0.70,-5.20),(0.20,-8.40)]
ood_left = [(-10.20,-1.05),(-10.05,-0.70),(-10.00,-1.45),(-9.85,-0.95),(-9.80,-1.70),(-9.65,-0.55),(-9.60,-1.25),(-9.50,-2.00),
    (-9.40,-0.85),(-9.35,-1.55),(-9.25,-0.30),(-9.20,-2.30),(-9.10,-1.15),(-9.00,-1.90),(-8.95,-0.60),(-8.85,-2.60),
    (-8.80,-1.40),(-8.70,-0.10),(-8.65,-2.15),(-8.55,-0.90),(-8.50,0.30),(-8.45,-2.90),(-8.40,-1.65),(-8.30,-0.40),
    (-8.25,-2.45),(-8.20,-3.25),(-8.10,-1.15),(-8.00,-1.95),(-7.95,-0.70),(-7.90,-2.80),(-7.80,-1.45),(-7.70,-2.30),
    (-7.60,-0.95),(-7.50,-3.00),(-7.45,-1.75),(-7.35,-2.50),(-7.25,-1.20),(-7.15,-2.05),(-7.05,-2.65),(-6.95,-1.55),
    (-6.85,-2.20),(-6.70,-1.85),(-6.60,-2.05),(-8.90,-1.00),(-9.30,-1.90),(-8.60,-1.85),(-8.15,-0.25),(-7.65,-1.20),
    (-9.70,-1.30),(-8.35,-2.75),(-7.20,-2.85),(-8.75,0.05),(-9.55,-0.15),(-10.10,-1.30),(-9.90,-0.80),(-9.70,-1.60),
    (-9.50,-1.05),(-9.40,-1.80),(-9.20,-0.65),(-9.05,-1.50),(-8.90,-2.20),(-8.80,-0.35),(-8.60,-1.20),(-8.50,-2.50),
    (-8.35,-0.80),(-8.20,-1.90),(-8.05,-2.55),(-7.90,-1.05),(-7.75,-1.75),(-7.55,-2.60),(-7.40,-1.40),(-7.25,-2.35),
    (-7.00,-1.80),(-8.65,-3.00),(-8.00,-3.05),(-9.00,0.00),(-8.45,0.00),(-6.80,-1.50)]
ood_right = [(8.55,-2.85),(8.70,-3.10),(8.80,-2.65),(8.95,-3.30),(9.05,-2.90),(9.15,-2.50),(9.25,-3.45),(9.30,-3.05),(9.40,-2.70),
    (9.45,-2.25),(9.55,-3.20),(9.60,-2.85),(9.70,-2.45),(9.75,-3.50),(9.85,-2.10),(9.90,-2.95),(9.95,-2.60),(10.05,-2.25),
    (10.10,-1.85),(10.15,-3.00),(10.20,-2.70),(10.30,-2.40),(10.35,-1.65),(10.40,-2.05),(10.50,-2.75),(10.55,-1.40),
    (10.60,-2.30),(10.65,-1.90),(10.75,-1.15),(10.80,-2.45),(10.85,-1.60),(10.90,-2.10),(10.95,-0.95),(11.00,-1.80),
    (11.10,-1.35),(11.15,-2.00),(11.25,-1.55),(11.35,-1.25),(11.45,-1.75),(11.55,-1.50),(9.20,-2.75),(9.65,-3.05),
    (10.00,-2.45),(10.45,-1.80),(9.50,-2.60),(10.70,-2.00),(9.10,-3.15),(10.25,-2.10),(11.05,-1.45),(8.90,-2.40),
    (8.65,-2.95),(8.85,-3.20),(9.00,-2.60),(9.20,-3.30),(9.35,-2.85),(9.55,-2.45),(9.70,-3.20),(9.80,-2.70),(10.00,-2.90),
    (10.10,-2.15),(10.25,-2.55),(10.40,-1.90),(10.50,-2.45),(10.60,-1.65),(10.75,-2.25),(10.85,-1.35),(10.95,-1.90),
    (11.10,-1.65),(11.20,-1.20),(11.40,-1.50),(9.40,-3.40),(9.90,-3.25),(10.30,-1.45),(10.05,-1.70),(11.30,-1.85)]
ood_stray = [(-7.93,0.87),(-7.03,-1.27),(-5.67,-2.48),(-0.67,4.50),(1.00,2.53),(0.63,1.62),(1.65,-0.23),(1.77,-0.99),
    (2.15,-1.95),(3.96,1.26),(8.51,-1.01),(9.06,-1.83),(9.18,-1.74),(10.36,0.14)]
# points marked with a cross
crosses = ood_stray + [(-3.30,2.27),(-3.03,2.13),(-1.70,1.89),(-1.30,1.92),(-1.02,2.27),(-0.80,2.13),(-3.50,1.05),(-3.27,1.31),
    (-3.03,1.05),(-3.70,0.52),(-2.95,0.26),(-2.21,0.96),(-1.85,0.61),(-2.28,0.09),(-3.14,-0.30),(-2.48,-0.82),(-2.04,-0.49),
    (-1.99,-0.82),(-1.41,-0.44),(-1.46,-1.10),(-1.12,-0.61),(-0.99,-0.12),(-0.94,-0.30),(-0.72,1.40),(-0.52,1.22),
    (-0.68,0.98),(-0.52,0.49),(-0.41,-1.40),(0.61,-1.27)]


def xy(pts):
    a = np.array(pts)
    return a[:, 0], a[:, 1]


def style_axes(ax):
    for s in ax.spines.values():
        s.set_color('#222222')
        s.set_linewidth(1.0)
    ax.tick_params(length=2.5, width=0.5, color='#333333', labelsize=6.5, labelcolor='#4D4D4D', pad=2)


fig = plt.figure(figsize=(11.23, 4.02), dpi=100)
ax1 = fig.add_axes([0.0385, 0.1692, 0.4472, 0.8126])
ax2 = fig.add_axes([0.5572, 0.1692, 0.4375, 0.8126])

# left panel
for pts, c in [(class1, col_1), (class2, col_2), (class3, col_3), (class4, col_4)]:
    ax1.scatter(*xy(pts), s=9, color=c, linewidths=0, zorder=2)
for pts in [ood_a, ood_b, ood_c, ood_d]:
    ax1.scatter(*xy(pts), s=9, color=col_ood, linewidths=0, zorder=2)
for cont, c in [(contour1, col_1), (contour2, col_2), (contour3, col_3), (contour4, col_4)]:
    ax1.plot(*xy(cont), color=c, lw=0.8, zorder=3)
ax1.set_xlim(-7.83, 10.91)
ax1.set_ylim(-9.39, 10.95)
ax1.set_xticks([-5, 0, 5, 10])
ax1.set_yticks([-5, 0, 5, 10])
ax1.set_xlabel('X1', fontsize=14)
ax1.set_ylabel('X2', fontsize=14)
style_axes(ax1)

# right panel
for pts in [ood_top, ood_bottom, ood_left, ood_right]:
    ax2.scatter(*xy(pts), s=42, facecolors='none', edgecolors=col_ood, linewidths=1.2, zorder=2)
ax2.scatter(*xy(pred4), s=34, facecolors='none', edgecolors=col_4, linewidths=1.1, zorder=3)
ax2.scatter(*xy(pred3), s=18, facecolors='none', edgecolors=col_3, linewidths=1.0, zorder=4)
ax2.scatter(*xy(pred2), s=10, facecolors='none', edgecolors=col_2, linewidths=0.8, zorder=5)
ax2.scatter(*xy(pred1), s=6, color=col_1, linewidths=0, zorder=6)
ax2.scatter(*xy(ood_stray), s=42, facecolors='none', edgecolors=col_ood, linewidths=1.2, zorder=7)
ax2.scatter(*xy(crosses), s=12, marker='x', color='black', linewidths=1.1, zorder=8)
ax2.set_xlim(-11.08, 12.06)
ax2.set_ylim(-9.28, 7.82)
ax2.set_xticks([-10, -5, 0, 5, 10])
ax2.set_yticks([-5, 0, 5])
ax2.set_xlabel('PC1 (73.86%)', fontsize=14)
ax2.set_ylabel('PC2 (25.85%)', fontsize=14)
style_axes(ax2)

for ax in (ax1, ax2):
    ax.xaxis.set_label_coords(0.5, -0.072)
    ax.xaxis.label.set_va('center')
    ax.yaxis.set_label_coords(-0.056, 0.5)
    ax.yaxis.label.set_va('center')

# legends below each panel
leg_y = 1 - 392.5 / 402
h1 = [Line2D([], [], marker='o', ls='', color=c, markersize=2.2, markeredgewidth=0)
      for c in [col_1, col_2, col_3, col_4, col_ood]]
fig.text(132 / 1123, leg_y, 'Class', fontsize=15, weight='bold', va='center')
fig.legend(h1, legend_labels, loc='center left', bbox_to_anchor=(198.8 / 1123, leg_y), ncol=5, frameon=False,
           fontsize=15, handlelength=0.6, handletextpad=0.57, columnspacing=0.5, borderpad=0, borderaxespad=0)

h2 = [Line2D([], [], marker='o', ls='', color=col_1, markersize=2.0, markeredgewidth=0),
      Line2D([], [], marker='o', ls='', markerfacecolor='none', markeredgecolor=col_2, markersize=3.2, markeredgewidth=0.8),
      Line2D([], [], marker='o', ls='', markerfacecolor='none', markeredgecolor=col_3, markersize=4.2, markeredgewidth=1.0),
      Line2D([], [], marker='o', ls='', markerfacecolor='none', markeredgecolor=col_4, markersize=5.2, markeredgewidth=1.1),
      Line2D([], [], marker='o', ls='', markerfacecolor='none', markeredgecolor=col_ood, markersize=5.6, markeredgewidth=1.1)]
fig.text(691.7 / 1123, leg_y, 'Prediction', fontsize=15, weight='bold', va='center')
fig.legend(h2, legend_labels, loc='center left', bbox_to_anchor=(804.5 / 1123, leg_y), ncol=5, frameon=False,
           fontsize=15, handlelength=0.6, handletextpad=0.5, columnspacing=0.6, borderpad=0, borderaxespad=0)

fig.savefig('out.png', dpi=100)
